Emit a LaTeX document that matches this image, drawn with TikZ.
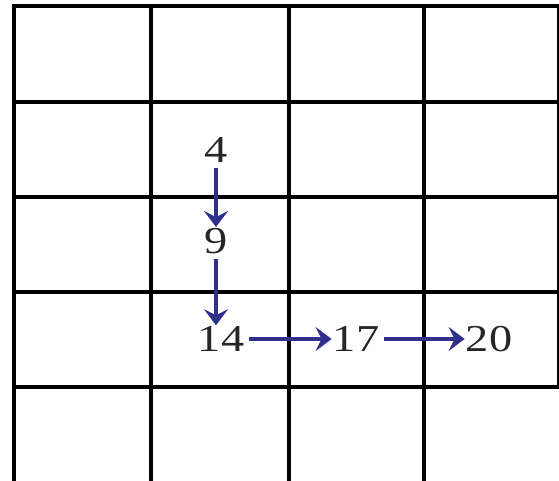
\documentclass[tikz,border=0pt]{standalone}
\usepackage{fontspec}
\setmainfont{Liberation Serif}[FakeStretch=1.22]
\usetikzlibrary{arrows.meta}
\definecolor{arrowblue}{RGB}{48,48,140}
\begin{document}
\begin{tikzpicture}[
  x=1pt, y=-1pt,
  gridline/.style={line width=4.5pt, black},
  every node/.style={inner sep=1pt, font=\fontsize{38}{40}\selectfont, text=black!85},
  pathto/.style={arrowblue, line width=4.5pt, -{Stealth[length=16pt,width=24pt,inset=6pt]}, shorten <=4pt}
]
  \useasboundingbox (0,0) rectangle (559,481);
  % grid
  \foreach \x in {14,151,289,424}
    \draw[gridline] (\x,6) -- (\x,481);
  \draw[line width=2pt] (558,6) -- (558,387);
  \foreach \y in {6,102,197,292,387}
    \draw[gridline] (12,\y) -- (559,\y);

  \node (n4)  at (216,150) {4};
  \node (n9)  at (216,241) {9};
  \node (n14) at (221,339) {14};
  \node (n17) at (356,339) {17};
  \node (n20) at (489,339) {20};

  \draw[pathto] (n4)  -- (n9);
  \draw[pathto] (n9)  -- (n14.north -| n9);
  \draw[pathto] (n14) -- (n17);
  \draw[pathto] (n17) -- (n20);
\end{tikzpicture}
\end{document}
